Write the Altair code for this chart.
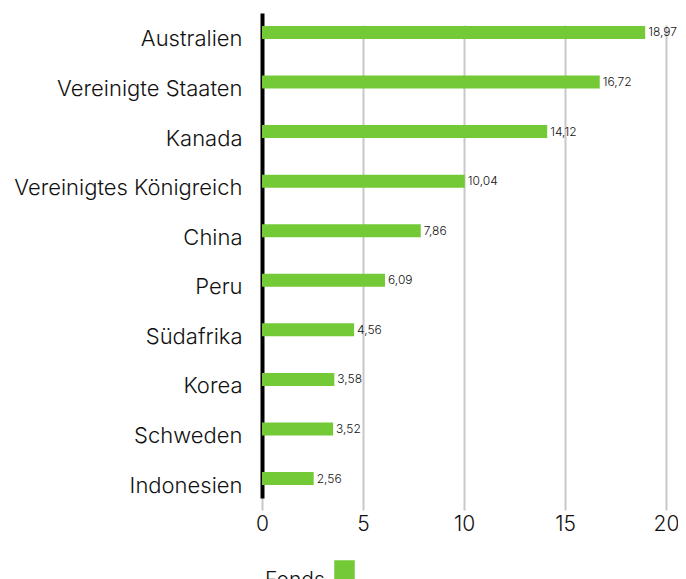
import altair as alt
import pandas as pd

countries = ["Australien", "Vereinigte Staaten", "Kanada", "Vereinigtes Königreich",
             "China", "Peru", "Südafrika", "Korea", "Schweden", "Indonesien"]
values = [18.97, 16.72, 14.12, 10.04, 7.86, 6.09, 4.56, 3.58, 3.52, 2.56]
series = "Fonds"
x_ticks = [0, 5, 10, 15, 20]

df = pd.DataFrame({"Land": countries, "Wert": values, "Serie": [series] * len(countries)})
df["Label"] = [f"{v:.2f}".replace(".", ",") for v in values]

FONT = "Inter"
GREEN = "#74C936"
TXT = "#111111"

y = alt.Y("Land:N", sort=countries, title=None,
          scale=alt.Scale(range=[0, 485], paddingInner=0.738, paddingOuter=0.262),
          axis=alt.Axis(domainColor="#000000", domainWidth=4, ticks=False, grid=False,
                        labelFontSize=22, labelColor=TXT, labelPadding=20,
                        labelFont=FONT, labelFontWeight=300, labelLimit=300,
                        labelOffset=7))
x = alt.X("Wert:Q", title=None, scale=alt.Scale(domain=[0, 20], nice=False),
          axis=alt.Axis(values=x_ticks, domain=False, ticks=False, grid=True,
                        gridColor="#c8c8c8", gridWidth=2, labelFontSize=21,
                        labelColor=TXT, labelPadding=3, labelFont=FONT,
                        labelFontWeight=300, labelFlush=False))

bars = alt.Chart(df).mark_bar().encode(
    x=x, y=y,
    color=alt.Color("Serie:N", scale=alt.Scale(range=[GREEN]),
                    legend=alt.Legend(title="Fonds", titleOrient="left", orient="none",
                                      legendX=3, legendY=547, labelExpr="''",
                                      symbolType="square", symbolSize=420,
                                      symbolStrokeWidth=0, titleFontSize=21,
                                      titleFontWeight=300, titleFont=FONT,
                                      titleColor=TXT, titlePadding=9,
                                      titleBaseline="top"))
)

labels = alt.Chart(df).mark_text(align="left", baseline="middle", dx=3, fontSize=12,
                                 font=FONT, fontWeight=300, color=TXT).encode(
    x="Wert:Q", y=alt.Y("Land:N", sort=countries), text="Label:N")

chart = (bars + labels).properties(
    width=404, height=497,
    autosize=alt.AutoSizeParams(type="none"),
    padding={"left": 254, "top": 5, "right": 12, "bottom": 70},
).configure_view(stroke=None)

chart.save("out.html", embed_options={"renderer": "svg", "actions": False})
